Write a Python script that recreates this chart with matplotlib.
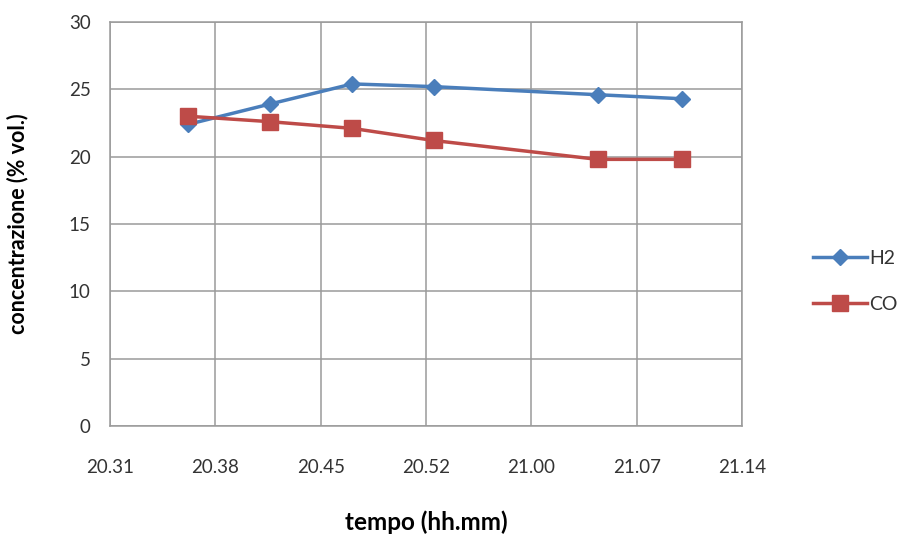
import matplotlib.pyplot as plt

plt.rcParams['font.family'] = ['Lato', 'DejaVu Sans']

# measurement times (minutes after midnight) and concentrations (% vol.)
times = [20 * 60 + 36.2, 20 * 60 + 41.6, 20 * 60 + 47.1, 20 * 60 + 52.5, 21 * 60 + 3.4, 21 * 60 + 9.0]
h2 = [22.4, 23.9, 25.4, 25.2, 24.6, 24.3]
co = [23.0, 22.6, 22.1, 21.2, 19.8, 19.8]

tick_pos = [20 * 60 + 31 + 7 * i for i in range(7)]
tick_labels = ['20.31', '20.38', '20.45', '20.52', '21.00', '21.07', '21.14']

fig = plt.figure(figsize=(9.07, 5.36), dpi=100)
ax = fig.add_axes([0.1213, 0.2052, 0.6968, 0.7538])

ax.plot(times, h2, color='#4a7ebb', lw=2.5, marker='D', ms=8, label='H2')
ax.plot(times, co, color='#be4b48', lw=2.5, marker='s', ms=11, label='CO')

ax.set_xlim(tick_pos[0], tick_pos[-1])
ax.set_ylim(0, 30)
ax.set_xticks(tick_pos)
ax.set_xticklabels(tick_labels)
ax.set_yticks(range(0, 31, 5))

ax.grid(True, color='#9a9a9a', lw=1.1)
ax.set_axisbelow(True)
for s in ax.spines.values():
    s.set_color('#9a9a9a')
    s.set_linewidth(1.1)
ax.tick_params(length=0, labelsize=13.5, colors='#333333')
ax.tick_params(axis='x', pad=24)
ax.tick_params(axis='y', pad=14)

ax.set_xlabel('tempo (hh.mm)', fontsize=17.5, fontweight='bold')
ax.set_ylabel('concentrazione (% vol.)', fontsize=15.5, fontweight='bold')
ax.xaxis.set_label_coords(0.5, -0.208)
ax.yaxis.set_label_coords(-0.129, 0.5)

fig.legend(loc='center left', bbox_to_anchor=(0.896, 0.475), frameon=False,
           borderpad=0, borderaxespad=0, fontsize=14, handlelength=2.8,
           handletextpad=0.1, labelspacing=1.5, labelcolor='#333333')

fig.savefig('out.png', dpi=100)
